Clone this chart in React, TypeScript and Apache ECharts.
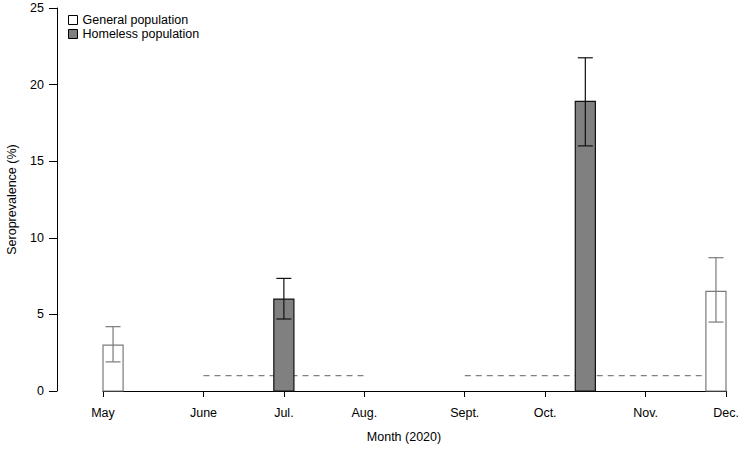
import React, { useEffect, useRef } from "react";
import * as echarts from "echarts";

// x positions in weeks of 2020 (month starts are tick positions)
const monthWeeks = [18, 23, 27, 31, 36, 40, 45, 49];
const monthLabels = ["May", "June", "Jul.", "Aug.", "Sept.", "Oct.", "Nov.", "Dec."];

const generalWeeks = [18.5, 48.5];
const generalValues = [3.0, 6.5];
const generalLow = [1.9, 4.5];
const generalHigh = [4.2, 8.7];

const homelessWeeks = [27, 42];
const homelessValues = [6.0, 18.9];
const homelessLow = [4.7, 16.0];
const homelessHigh = [7.35, 21.75];

// dashed reference segments at 1%
const refSegments = [
  [23, 31],
  [36, 49],
];
const refValue = 1;

const FONT = "Liberation Sans, Arial, sans-serif";

function makeRender(fill: string, stroke: string) {
  return (params: any, api: any) => {
    const x = api.value(0);
    const v = api.value(1);
    const lo = api.value(2);
    const hi = api.value(3);
    const tl = api.coord([x - 0.5, v]);
    const br = api.coord([x + 0.5, 0]);
    const c = api.coord([x, v]);
    const pLo = api.coord([x, lo]);
    const pHi = api.coord([x, hi]);
    const w = 7.5;
    return {
      type: "group",
      children: [
        {
          type: "rect",
          shape: { x: tl[0], y: tl[1], width: br[0] - tl[0], height: br[1] - tl[1] },
          style: { fill, stroke, lineWidth: 1.2 },
        },
        {
          type: "line",
          shape: { x1: c[0], y1: pLo[1], x2: c[0], y2: pHi[1] },
          style: { stroke, lineWidth: 1.2 },
        },
        {
          type: "line",
          shape: { x1: c[0] - w, y1: pLo[1], x2: c[0] + w, y2: pLo[1] },
          style: { stroke, lineWidth: 1.2 },
        },
        {
          type: "line",
          shape: { x1: c[0] - w, y1: pHi[1], x2: c[0] + w, y2: pHi[1] },
          style: { stroke, lineWidth: 1.2 },
        },
      ],
    };
  };
}

export default function App() {
  const ref = useRef<HTMLDivElement>(null);
  useEffect(() => {
    if (!ref.current) return;
    const chart = echarts.init(ref.current, undefined, { renderer: "svg" });
    const generalData = generalWeeks.map((w, i) => [w, generalValues[i], generalLow[i], generalHigh[i]]);
    const homelessData = homelessWeeks.map((w, i) => [w, homelessValues[i], homelessLow[i], homelessHigh[i]]);
    const refSeries = refSegments.map((seg, i) => ({
      type: "line",
      name: "ref" + i,
      data: seg.map((w) => [w, refValue]),
      symbol: "none",
      lineStyle: { color: "#808080", width: 1.3, type: [6, 5] },
      z: 1,
      silent: true,
    }));
    chart.setOption({
      animation: false,
      backgroundColor: "#ffffff",
      textStyle: { fontFamily: FONT },
      grid: { left: 103, right: 12, top: 8, bottom: 60, containLabel: false, outerBoundsMode: "none" },
      legend: {
        orient: "vertical",
        left: 68,
        top: 13,
        padding: 0,
        itemWidth: 9,
        itemHeight: 9,
        itemGap: 0,
        textStyle: { fontFamily: FONT, fontSize: 12.5, color: "#000", lineHeight: 14 },
        data: [
          { name: "General population", icon: "rect", itemStyle: { color: "#fff", borderColor: "#000", borderWidth: 1 } },
          { name: "Homeless population", icon: "rect", itemStyle: { color: "#808080", borderColor: "#000", borderWidth: 1 } },
        ],
      },
      xAxis: {
        type: "value",
        min: 18,
        max: 49,
        splitLine: { show: false },
        axisLine: { show: true, onZero: false, lineStyle: { color: "#000", width: 1 } },
        axisTick: { show: true, length: 6, customValues: monthWeeks, lineStyle: { color: "#000" } },
        axisLabel: {
          customValues: monthWeeks,
          margin: 15,
          fontSize: 12.5,
          color: "#000",
          fontFamily: FONT,
          showMinLabel: true,
          showMaxLabel: true,
          formatter: (v: number) => {
            const i = monthWeeks.indexOf(Math.round(v));
            return i >= 0 ? monthLabels[i] : "";
          },
        },
      },
      yAxis: {
        type: "value",
        min: 0,
        max: 25,
        interval: 5,
        offset: 46,
        name: "Seroprevalence (%)",
        nameLocation: "middle",
        nameGap: 39,
        nameTextStyle: { fontFamily: FONT, fontSize: 12.5, color: "#000" },
        splitLine: { show: false },
        axisLine: { show: true, lineStyle: { color: "#000", width: 1 } },
        axisTick: { show: true, length: 8, lineStyle: { color: "#000" } },
        axisLabel: { margin: 13, fontSize: 12.5, color: "#000", fontFamily: FONT },
      },
      graphic: [
        {
          type: "text",
          x: 404,
          y: 437,
          style: {
            text: "Month (2020)",
            fontFamily: FONT,
            fontSize: 12.5,
            fill: "#000",
            align: "center",
            verticalAlign: "middle",
          },
        },
      ],
      series: [
        ...refSeries,
        {
          type: "custom",
          name: "General population",
          data: generalData,
          encode: { x: 0, y: 1 },
          itemStyle: { color: "#fff", borderColor: "#000" },
          renderItem: makeRender("#ffffff", "#7a7a7a"),
          z: 3,
        },
        {
          type: "custom",
          name: "Homeless population",
          data: homelessData,
          encode: { x: 0, y: 1 },
          itemStyle: { color: "#808080", borderColor: "#000" },
          renderItem: makeRender("#808080", "#111111"),
          z: 3,
        },
      ],
    });
    return () => chart.dispose();
  }, []);
  return (
    <div
      ref={ref}
      style={{ position: "fixed", left: 0, top: 0, width: 738, height: 451, background: "#fff" }}
    />
  );
}
